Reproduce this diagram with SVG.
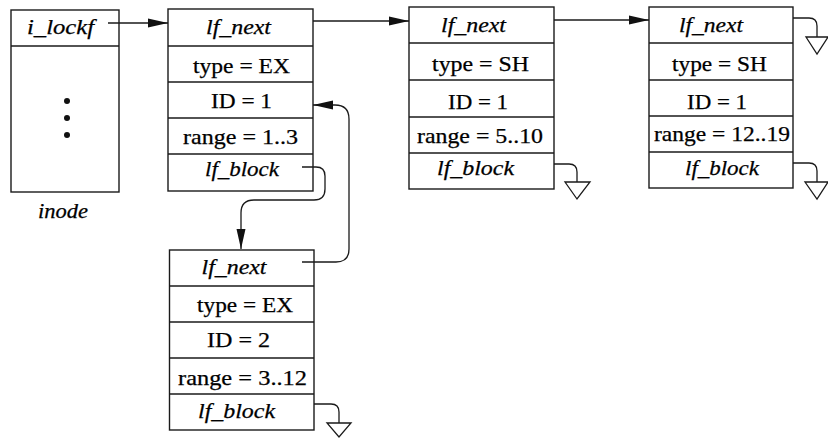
<svg xmlns="http://www.w3.org/2000/svg" width="828" height="438" viewBox="0 0 828 438">
<style>
.box{fill:#fff;stroke:#1a1a1a;stroke-width:1.4}
.div{stroke:#1a1a1a;stroke-width:1.3}
.t{font-family:"Liberation Serif","Times New Roman",serif;font-size:21px;fill:#000;stroke:#000;stroke-width:0.25;text-anchor:middle}
.i{font-style:italic}
.c{fill:none;stroke:#1a1a1a;stroke-width:1.3}
.gnd{fill:#fff;stroke:#1a1a1a;stroke-width:1.3}
</style>
<defs>
<marker id="ah" markerUnits="userSpaceOnUse" markerWidth="21" markerHeight="10" refX="20" refY="5" orient="auto">
<path d="M0,0.5 L20,5 L0,9.5 Z" fill="#111"/>
</marker>
</defs>
<rect width="828" height="438" fill="#fff"/>

<g id="inode">
<rect class="box" x="11" y="10" width="108" height="182"/>
<line class="div" x1="11" y1="46" x2="119" y2="46"/>
<text class="t i" x="60.5" y="34" textLength="67" lengthAdjust="spacingAndGlyphs">i_lockf</text>
<circle cx="67" cy="101" r="3" fill="#111"/>
<circle cx="67" cy="118" r="3" fill="#111"/>
<circle cx="67" cy="135" r="3" fill="#111"/>
<text class="t i" x="63" y="218" textLength="50" lengthAdjust="spacingAndGlyphs">inode</text>
</g>

<g id="lock1">
<rect class="box" x="168" y="9" width="145" height="182"/>
<line class="div" x1="168" y1="46" x2="313" y2="46"/>
<line class="div" x1="168" y1="82" x2="313" y2="82"/>
<line class="div" x1="168" y1="118" x2="313" y2="118"/>
<line class="div" x1="168" y1="154" x2="313" y2="154"/>
<text class="t i" x="238.5" y="34" textLength="65" lengthAdjust="spacingAndGlyphs">lf_next</text>
<text class="t" x="241.5" y="73" textLength="97" lengthAdjust="spacingAndGlyphs">type = EX</text>
<text class="t" x="241.5" y="108" textLength="61" lengthAdjust="spacingAndGlyphs">ID = 1</text>
<text class="t" x="240.5" y="144" textLength="115" lengthAdjust="spacingAndGlyphs">range = 1..3</text>
<text class="t i" x="242" y="176" textLength="74" lengthAdjust="spacingAndGlyphs">lf_block</text>
</g>

<g id="lock2">
<rect class="box" x="409" y="7" width="145" height="182"/>
<line class="div" x1="409" y1="43" x2="554" y2="43"/>
<line class="div" x1="409" y1="80" x2="554" y2="80"/>
<line class="div" x1="409" y1="117" x2="554" y2="117"/>
<line class="div" x1="409" y1="153" x2="554" y2="153"/>
<text class="t i" x="473.5" y="32" textLength="65" lengthAdjust="spacingAndGlyphs">lf_next</text>
<text class="t" x="480.5" y="71" textLength="97" lengthAdjust="spacingAndGlyphs">type = SH</text>
<text class="t" x="478" y="109" textLength="60" lengthAdjust="spacingAndGlyphs">ID = 1</text>
<text class="t" x="480" y="143" textLength="126" lengthAdjust="spacingAndGlyphs">range = 5..10</text>
<text class="t i" x="475.5" y="175" textLength="77" lengthAdjust="spacingAndGlyphs">lf_block</text>
</g>

<g id="lock3">
<rect class="box" x="649" y="7" width="144" height="181"/>
<line class="div" x1="649" y1="43" x2="793" y2="43"/>
<line class="div" x1="649" y1="80" x2="793" y2="80"/>
<line class="div" x1="649" y1="116" x2="793" y2="116"/>
<line class="div" x1="649" y1="152" x2="793" y2="152"/>
<text class="t i" x="711" y="32" textLength="64" lengthAdjust="spacingAndGlyphs">lf_next</text>
<text class="t" x="719.5" y="71" textLength="95" lengthAdjust="spacingAndGlyphs">type = SH</text>
<text class="t" x="717" y="109" textLength="60" lengthAdjust="spacingAndGlyphs">ID = 1</text>
<text class="t" x="722" y="141" textLength="136" lengthAdjust="spacingAndGlyphs">range = 12..19</text>
<text class="t i" x="722" y="175" textLength="74" lengthAdjust="spacingAndGlyphs">lf_block</text>
</g>

<g id="lock4">
<rect class="box" x="169.5" y="250" width="144.5" height="180"/>
<line class="div" x1="169.5" y1="286" x2="314" y2="286"/>
<line class="div" x1="169.5" y1="322" x2="314" y2="322"/>
<line class="div" x1="169.5" y1="358" x2="314" y2="358"/>
<line class="div" x1="169.5" y1="394" x2="314" y2="394"/>
<text class="t i" x="234" y="274" textLength="65" lengthAdjust="spacingAndGlyphs">lf_next</text>
<text class="t" x="245" y="312" textLength="96" lengthAdjust="spacingAndGlyphs">type = EX</text>
<text class="t" x="238.5" y="347" textLength="63" lengthAdjust="spacingAndGlyphs">ID = 2</text>
<text class="t" x="242.5" y="385" textLength="129" lengthAdjust="spacingAndGlyphs">range = 3..12</text>
<text class="t i" x="236.5" y="418" textLength="77" lengthAdjust="spacingAndGlyphs">lf_block</text>
</g>

<g id="connectors">
<path class="c" d="M108,23 H168" marker-end="url(#ah)"/>
<path class="c" d="M313,21 H409" marker-end="url(#ah)"/>
<path class="c" d="M554,20 H649" marker-end="url(#ah)"/>
<path class="c" d="M302,167 H316 Q325,167 325,176 V189 Q325,200 314,200 H254 Q241,200 241,213 V249" marker-end="url(#ah)"/>
<path class="c" d="M302,262 H336 Q349,262 349,249 V119 Q349,105 335,105 H313" marker-end="url(#ah)"/>
<path class="c" d="M793,18 H809 Q817,18 817,26 V37"/>
<polygon class="gnd" points="806,37 828,37 817,54"/>
<path class="c" d="M554,164 H569 Q577,164 577,172 V182"/>
<polygon class="gnd" points="565,182 590,182 577,199"/>
<path class="c" d="M793,163 H809 Q817,163 817,171 V182"/>
<polygon class="gnd" points="805,182 828,182 817,199"/>
<path class="c" d="M314,404 H331 Q339,404 339,412 V423"/>
<polygon class="gnd" points="327,423 351,423 339,437"/>
</g>
</svg>
